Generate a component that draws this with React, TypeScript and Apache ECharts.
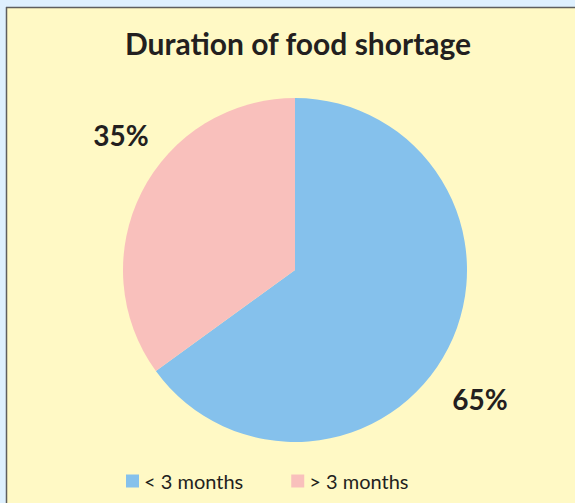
import React, { useEffect, useRef } from "react";
import * as echarts from "echarts";

const categories = ["< 3 months", "> 3 months"];
const values = [65, 35];
const colors = ["#85C1EC", "#F9C0BC"];
const titleText = "Duration of food shortage";

export default function App() {
  const ref = useRef<HTMLDivElement>(null);
  useEffect(() => {
    if (!ref.current) return;
    const chart = echarts.init(ref.current, null, { renderer: "svg" });
    const data = categories.map((name, i) => ({
      name,
      value: values[i],
      itemStyle: { color: colors[i] },
    }));
    chart.setOption({
      animation: false,
      backgroundColor: "#DEF0FE",
      textStyle: { fontFamily: "Lato" },
      graphic: [
        {
          type: "rect",
          z: -10,
          shape: { x: 7, y: 8, width: 568, height: 495 },
          style: { fill: "#FFF9C5" },
        },
        {
          type: "line",
          z: -9,
          shape: { x1: 6.5, y1: 7, x2: 6.5, y2: 503 },
          style: { stroke: "#5E5E5E", lineWidth: 1.5 },
        },
        {
          type: "line",
          z: -9,
          shape: { x1: 6, y1: 7.5, x2: 575, y2: 7.5 },
          style: { stroke: "#5E5E5E", lineWidth: 1.5 },
        },
      ],
      title: {
        text: titleText,
        left: 293,
        textAlign: "center",
        top: 23,
        textStyle: {
          fontFamily: "Lato",
          fontWeight: "bold",
          fontSize: 30,
          color: "#231F20",
        },
      },
      legend: {
        data: categories,
        left: 121,
        top: 466,
        itemWidth: 13,
        itemHeight: 13,
        itemGap: 48,
        icon: "rect",
        textStyle: { fontFamily: "Lato", fontSize: 20, color: "#231F20" },
      },
      series: [
        {
          type: "pie",
          center: [295, 270],
          radius: 172,
          startAngle: 90,
          clockwise: true,
          data,
          label: { show: false },
          labelLine: { show: false },
          emphasis: { disabled: true },
        },
        {
          type: "pie",
          center: [300.5, 267],
          radius: [198, 242],
          startAngle: 80.6,
          clockwise: true,
          silent: true,
          data: categories.map((name, i) => ({
            name,
            value: values[i],
            itemStyle: { color: "rgba(0,0,0,0)" },
          })),
          label: {
            show: true,
            position: "inside",
            formatter: "{c}%",
            fontFamily: "Lato",
            fontWeight: "bold",
            fontSize: 28,
            color: "#231F20",
          },
          labelLine: { show: false },
          emphasis: { disabled: true },
        },
      ],
    });
    return () => chart.dispose();
  }, []);
  return (
    <div
      ref={ref}
      style={{ position: "fixed", left: 0, top: 0, width: 575, height: 503 }}
    />
  );
}
